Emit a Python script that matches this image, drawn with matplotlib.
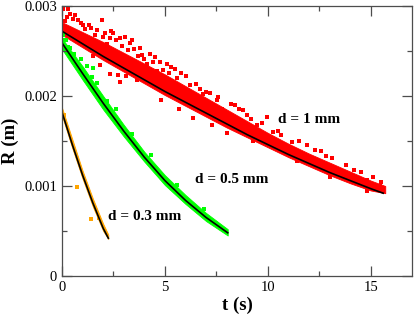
import matplotlib

matplotlib.use("Agg")
import matplotlib.pyplot as plt
from matplotlib.ticker import MultipleLocator

plt.rcParams["font.family"] = ["Liberation Serif", "DejaVu Serif"]

# ---- data ----
# fitted curves (black)
fit1_t = [0, 1, 2, 3, 4, 5, 6, 7, 8, 9, 10, 11, 12, 13, 14, 15, 15.6]
fit1_R = [0.00272, 0.00258, 0.00244, 0.00231, 0.00218, 0.00205, 0.00193, 0.00181,
          0.00169, 0.00157, 0.00146, 0.00135, 0.00125, 0.00115, 0.00106, 0.00097, 0.00092]
fit05_t = [0, 1, 2, 3, 4, 5, 6, 7, 8.05]
fit05_R = [0.00259, 0.00225, 0.00192, 0.00161, 0.00132, 0.00106, 0.00084, 0.00065, 0.00048]
fit03_t = [0, 0.5, 1.0, 1.5, 2.0, 2.25]
fit03_R = [0.00182, 0.00146, 0.00112, 0.00081, 0.00053, 0.00042]

# dense core of each measured cloud (lower / upper edge)
band1_t = [0, 1, 2, 3, 4, 5, 6, 7, 8, 9, 10, 11, 12, 13, 14, 15, 15.7]
band1_lo = [0.00268, 0.00254, 0.00240, 0.00227, 0.00214, 0.00201, 0.00189, 0.00177,
            0.00165, 0.00154, 0.00143, 0.00132, 0.00122, 0.00112, 0.00103, 0.00095, 0.00092]
band1_hi = [0.00282, 0.00271, 0.00260, 0.00248, 0.00236, 0.00224, 0.00211, 0.00198,
            0.00185, 0.00172, 0.00159, 0.00147, 0.00136, 0.00126, 0.00116, 0.00106, 0.00100]
band05_t = [0, 1, 2, 3, 4, 5, 6, 7, 8.05]
band05_lo = [0.00252, 0.00218, 0.00185, 0.00155, 0.00127, 0.00101, 0.00080, 0.00061, 0.00045]
band05_hi = [0.00264, 0.00233, 0.00200, 0.00168, 0.00138, 0.00112, 0.00090, 0.00070, 0.00052]
band03_t = [0, 0.5, 1.0, 1.5, 2.0, 2.25]
band03_lo = [0.00178, 0.00142, 0.00108, 0.00077, 0.00050, 0.00041]
band03_hi = [0.00187, 0.00152, 0.00117, 0.00086, 0.00058, 0.00046]

# scattered points outside the dense core
halo1_t = [0.06, 0.31, 0.55, 0.63, 0.23, 1.93, 1.12, 1.68, 2.33, 2.82, 3.06, 3.30, 3.79,
           1.84, 2.33, 2.73, 4.27, 4.76, 4.11, 3.63, 2.82, 5.08, 6.21, 6.86, 7.51, 7.75,
           8.80, 9.94, 9.45, 8.00, 6.37, 10.26, 10.66, 11.15, 13.33, 14.79, 15.44, 13.58,
           0.9, 1.4, 2.1, 2.6, 3.5, 4.5, 5.5, 5.8, 0.4, 0.15, 1.0, 2.4, 3.9, 5.3, 7.0, 8.4,
           9.0, 12.3, 12.8, 14.2,
           0.8, 1.3, 1.6, 2.0, 2.2, 2.5, 2.9, 3.2, 3.4, 3.7, 4.0, 4.4, 4.6, 4.9, 5.2, 5.6,
           6.0, 6.5, 6.7, 7.2, 7.6, 8.2, 8.6, 9.2, 9.7, 10.5, 11.5, 11.9, 12.6, 13.1, 13.8,
           14.5, 15.1, 15.5, 1.5, 3.1, 4.8, 5.7, 7.3, 9.3, 11.4, 13.0, 14.8]
halo1_R = [0.00297, 0.00297, 0.00286, 0.00290, 0.00288, 0.00284, 0.00275, 0.00273, 0.00264,
           0.00264, 0.00266, 0.00259, 0.00253, 0.00234, 0.00225, 0.00223, 0.00247, 0.00238,
           0.00236, 0.00218, 0.00216, 0.00236, 0.00212, 0.00202, 0.00196, 0.00186, 0.00184,
           0.00177, 0.00168, 0.00159, 0.00175, 0.00160, 0.00157, 0.00149, 0.00116, 0.00107,
           0.00100, 0.00110, 0.00281, 0.00276, 0.00270, 0.00262, 0.00252, 0.00243, 0.00230,
           0.00226, 0.00291, 0.00283, 0.00279, 0.00272, 0.00246, 0.00232, 0.00205, 0.00190,
           0.00179, 0.00140, 0.00133, 0.00118,
           0.00284, 0.00279, 0.00268, 0.00266, 0.00258, 0.00270, 0.00256, 0.00251, 0.00262,
           0.00244, 0.00241, 0.00238, 0.00228, 0.00229, 0.00226, 0.00220, 0.00222, 0.00213,
           0.00208, 0.00203, 0.00199, 0.00191, 0.00186, 0.00174, 0.00170, 0.00161, 0.00150,
           0.00146, 0.00139, 0.00131, 0.00123, 0.00115, 0.00110, 0.00104, 0.00245, 0.00222,
           0.00196, 0.00186, 0.00168, 0.00150, 0.00128, 0.00110, 0.00094]
halo05_t = [0.05, 0.2, 0.39, 0.6, 1.5, 1.46, 1.2, 0.9, 2.6, 3.4, 0.1, 0.3, 1.7, 2.2, 4.3, 5.6, 6.9]
halo05_R = [0.00268, 0.00262, 0.00253, 0.00247, 0.00231, 0.00221, 0.00233, 0.00241, 0.00186,
            0.00158, 0.00262, 0.00255, 0.00214, 0.00195, 0.00134, 0.00101, 0.00074]
halo03_t = [0.71, 1.39, 0.1, 1.8]
halo03_R = [0.00099, 0.00063, 0.00179, 0.00064]

labels = ["d = 1 mm", "d = 0.5 mm", "d = 0.3 mm"]
label_t = [10.5, 6.46, 2.23]
label_R = [0.00174, 0.00107, 0.00066]

xticks = [0, 5, 10, 15]
yticks = [0, 0.001, 0.002, 0.003]
ytick_labels = ["0", "0.001", "0.002", "0.003"]

RED, GREEN, ORANGE = "#ff0000", "#00ff00", "#ffa500"

fig = plt.figure(figsize=(4.15, 3.16), dpi=100)
ax = fig.add_axes([0.1494, 0.1266, 0.8434, 0.8544])

ax.fill_between(band1_t, band1_lo, band1_hi, color=RED, lw=0.6, ec=RED)
ax.fill_between(band05_t, band05_lo, band05_hi, color=GREEN, lw=0.6, ec=GREEN)
ax.fill_between(band03_t, band03_lo, band03_hi, color=ORANGE, lw=0.6, ec=ORANGE)
ax.plot(halo1_t, halo1_R, "s", color=RED, ms=2.3, mew=0)
ax.plot(halo05_t, halo05_R, "s", color=GREEN, ms=2.3, mew=0)
ax.plot(halo03_t, halo03_R, "s", color=ORANGE, ms=2.3, mew=0)

for t, R in [(fit1_t, fit1_R), (fit05_t, fit05_R), (fit03_t, fit03_R)]:
    ax.plot(t, R, color="k", lw=1.2)

for s, t, R in zip(labels, label_t, label_R):
    ax.text(t, R, s, fontsize=11, fontweight="bold", va="center", ha="left")

ax.set_xlim(0, 17)
ax.set_ylim(0, 0.003)
ax.set_xticks(xticks)
ax.set_yticks(yticks)
ax.set_yticklabels(ytick_labels)
ax.xaxis.set_minor_locator(MultipleLocator(2.5))
ax.yaxis.set_minor_locator(MultipleLocator(0.0005))
ax.tick_params(which="both", direction="in", top=True, right=True,
               labelsize=10.5, color="0.3", width=0.9)
ax.tick_params(which="major", length=7)
ax.tick_params(which="minor", length=3.5)
for sp in ax.spines.values():
    sp.set_color("0.3")
    sp.set_linewidth(0.9)

ax.set_xlabel("t (s)", fontsize=13.5, fontweight="bold", labelpad=2)
ax.set_ylabel("R (m)", fontsize=13.5, fontweight="bold", labelpad=4)

fig.savefig("out.png", dpi=100)
